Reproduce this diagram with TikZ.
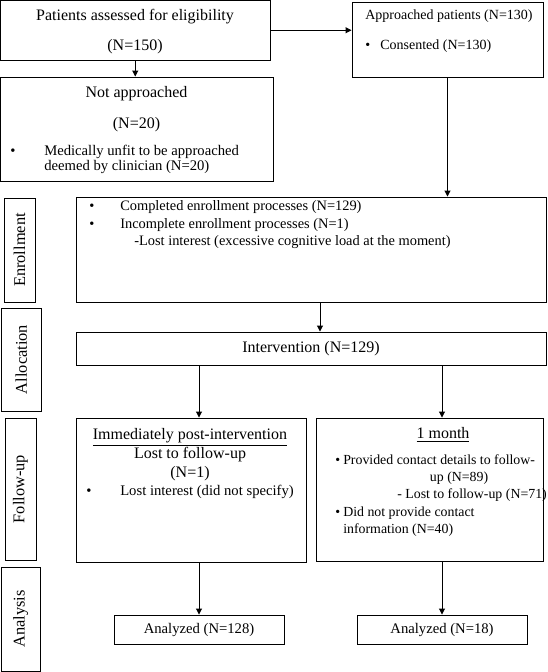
\documentclass[tikz,border=0pt]{standalone}
\usepackage{fontspec}
\setmainfont{Liberation Serif}
\usetikzlibrary{positioning, arrows.meta, calc, fit}

\newcommand{\fsz}[2]{\fontsize{#1}{#2}\selectfont}
\newcommand{\bul}[1]{\makebox[#1][l]{\textbullet}}

\begin{document}
\begin{tikzpicture}[x=0.75pt, y=-0.75pt,
    every node/.style={font=\fsz{11}{13}},
    box/.style={draw, rectangle, line width=0.7pt, inner sep=0pt},
    txt/.style={inner sep=0pt},
    stage/.style={inner sep=0pt, rotate=90, font=\fsz{12.3}{14}},
    arr/.style={-{Triangle[length=4.5pt, width=4.5pt]}, line width=0.7pt}]

  \useasboundingbox (0,0) rectangle (547,672);

  \node[box, fit={(0.5,0.5) (270,60)}] (assess) {};
  \node[txt, align=center, font=\fsz{12}{22.5}, anchor=north] (assess-t)
    at (135,9.4) {Patients assessed for eligibility\\(N=150)};

  \node[box, fit={(0.5,77) (273,181)}] (notappr) {};
  \node[txt, align=center, font=\fsz{12}{23}, anchor=north] (notappr-t)
    at (136.5,86.4) {Not approached\\(N=20)};
  \node[txt, align=left, font=\fsz{11}{11.25}, anchor=north west] (notappr-b)
    at (10,145) {\bul{25.5pt}Medically unfit to be approached\\
      \hspace*{25.5pt}deemed by clinician (N=20)};

  \node[box, fit={(352,2) (543,77)}] (appr) {};
  \node[txt, align=left, font=\fsz{10.5}{22.5}, anchor=north west] (appr-t)
    at (365,10) {Approached patients (N=130)\\\bul{11.25pt}Consented (N=130)};

  \node[box, fit={(4,198) (35,302)}] (enrl) {};
  \node[stage] (enrl-t) at (enrl.center) {Enrollment};
  \node[box, fit={(1.5,308) (41,411)}] (alloc) {};
  \node[stage] (alloc-t) at (alloc.center) {Allocation};
  \node[box, fit={(5,418) (36,560)}] (follow) {};
  \node[stage] (follow-t) at (follow.center) {Follow-up};
  \node[box, fit={(1.5,567) (40,671)}] (anls) {};
  \node[stage] (anls-t) at (anls.center) {Analysis};

  \node[box, fit={(76,197) (546,302)}] (enroll) {};
  \node[txt, align=left, font=\fsz{10.8}{13.4}, anchor=north west] (enroll-t)
    at (89,200) {\bul{23.25pt}Completed enrollment processes (N=129)\\
      \bul{23.25pt}Incomplete enrollment processes (N=1)\\
      \hspace*{33.75pt}-Lost interest (excessive cognitive load at the moment)};

  \node[box, fit={(76,332) (546,365)}] (interv) {};
  \node[txt, font=\fsz{12}{14}] (interv-t) at (interv.center) {Intervention (N=129)};

  \node[box, fit={(76,418) (306,562)}] (immed) {};
  \node[txt, align=center, font=\fsz{12}{14.2}, anchor=north] (immed-t)
    at (190,428.4) {\underline{Immediately post-intervention}\\Lost to follow-up\\(N=1)};
  \node[txt, align=left, anchor=north west] (immed-b)
    at (86,485) {\bul{25.5pt}Lost interest (did not specify)};

  \node[box, fit={(316,418) (543,561)}] (month) {};
  \node[txt, font=\fsz{12}{14}, anchor=north] (month-t)
    at (443,427.4) {\underline{1 month}};
  \node[txt, align=left, font=\fsz{10.4}{12.9}, anchor=north west] (month-b)
    at (335,454.5) {\bul{6pt}Provided contact details to follow-\\
      \hspace*{71pt}up (N=89)\\
      \hspace*{46.5pt}- Lost to follow-up (N=71)\\
      \bul{6pt}Did not provide contact\\
      \hspace*{6pt}information (N=40)};

  \node[box, fit={(114,615) (284,644)}] (an1) {};
  \node[txt] (an1-t) at (an1.center) {Analyzed (N=128)};
  \node[box, fit={(357,615) (527,644)}] (an2) {};
  \node[txt] (an2-t) at (an2.center) {Analyzed (N=18)};

  \draw[arr] (assess.south) -- (assess.south |- notappr.north);
  \draw[arr] (assess.east) -- (assess.east -| appr.west);
  \draw[arr] (appr.south) -- (appr.south |- enroll.north);
  \draw[arr] ([xshift=6.75pt]enroll.south) -- ([xshift=6.75pt]enroll.south |- interv.north);
  \draw[arr] (interv.south -| an1.north) -- (an1.north |- immed.north);
  \draw[arr] (interv.south -| an2.north) -- (an2.north |- month.north);
  \draw[arr] (immed.south -| an1.north) -- (an1.north);
  \draw[arr] (month.south -| an2.north) -- (an2.north);
\end{tikzpicture}
\end{document}
